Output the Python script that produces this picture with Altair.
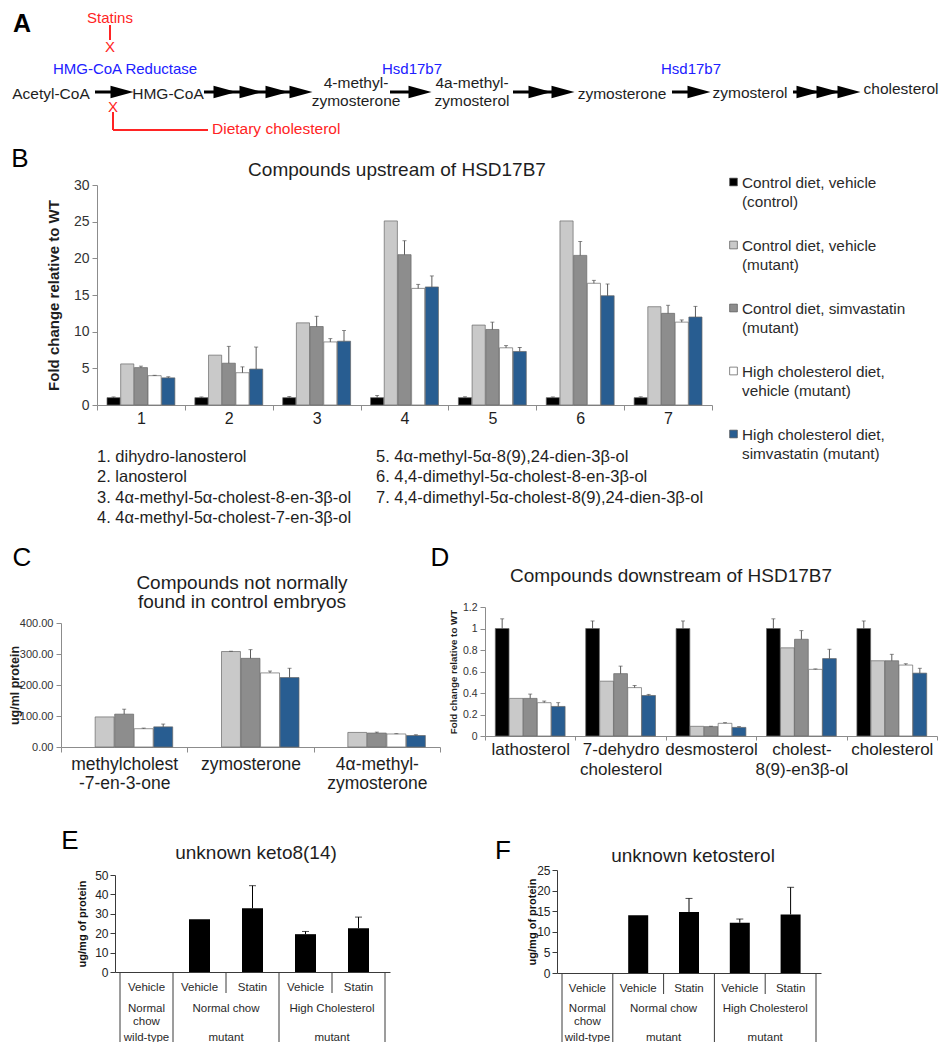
import altair as alt
import pandas as pd

W, H = 931, 1034
M = 8


def px(v):
    return v - M


FONT = "Liberation Sans"
INK = "#1e1e1e"
AXIS_GREY = "#8c8c8c"
RED = "#ff2424"
BLUE = "#2020ff"

# ------------------------------------------------------------------ data
SERIES = [
    "Control diet, vehicle (control)",
    "Control diet, vehicle (mutant)",
    "Control diet, simvastatin (mutant)",
    "High cholesterol diet, vehicle (mutant)",
    "High cholesterol diet, simvastatin (mutant)",
]
LEGEND_LABELS = [
    "Control diet, vehicle\n(control)",
    "Control diet, vehicle\n(mutant)",
    "Control diet, simvastatin\n(mutant)",
    "High cholesterol diet,\nvehicle (mutant)",
    "High cholesterol diet,\nsimvastatin (mutant)",
]
COLORS = ["#000000", "#c9c9c9", "#8d8d8d", "#ffffff", "#285d91"]

# Panel B
B_CATS = ["1", "2", "3", "4", "5", "6", "7"]
B_VALUES = [
    [1.0, 1.0, 1.0, 1.0, 1.0, 1.0, 1.0],
    [5.6, 6.8, 11.2, 25.1, 10.9, 25.1, 13.4],
    [5.1, 5.7, 10.7, 20.5, 10.3, 20.4, 12.5],
    [4.0, 4.4, 8.6, 15.9, 7.8, 16.6, 11.3],
    [3.7, 4.9, 8.7, 16.1, 7.3, 14.9, 12.0],
]
B_ERRORS = [
    [0.1, 0.1, 0.15, 0.3, 0.12, 0.1, 0.12],
    [0, 0, 0, 0, 0, 0, 0],
    [0.2, 2.3, 1.4, 1.9, 1.0, 1.9, 1.1],
    [0.05, 0.8, 0.45, 0.55, 0.3, 0.4, 0.3],
    [0.15, 3.0, 1.45, 1.5, 0.55, 1.6, 1.45],
]
B_COMPOUNDS_LEFT = [
    "1. dihydro-lanosterol",
    "2. lanosterol",
    "3. 4α-methyl-5α-cholest-8-en-3β-ol",
    "4. 4α-methyl-5α-cholest-7-en-3β-ol",
]
B_COMPOUNDS_RIGHT = [
    "5. 4α-methyl-5α-8(9),24-dien-3β-ol",
    "6. 4,4-dimethyl-5α-cholest-8-en-3β-ol",
    "7. 4,4-dimethyl-5α-cholest-8(9),24-dien-3β-ol",
]

# Panel C
C_CATS = ["methylcholest|-7-en-3-one", "zymosterone", "4α-methyl-|zymosterone"]
C_VALUES = [
    [None, None, None],
    [97, 308, 47],
    [106, 286, 45],
    [59, 239, 42],
    [65, 224, 37],
]
C_ERRORS = [
    [0, 0, 0],
    [0, 1, 0],
    [16, 28, 3],
    [2, 6, 1],
    [9, 30, 2.5],
]

# Panel D
D_CATS = ["lathosterol", "7-dehydro|cholesterol", "desmosterol", "cholest-|8(9)-en3β-ol", "cholesterol"]
D_VALUES = [
    [1.0, 1.0, 1.0, 1.0, 1.0],
    [0.35, 0.51, 0.09, 0.82, 0.70],
    [0.35, 0.58, 0.087, 0.90, 0.70],
    [0.31, 0.45, 0.118, 0.62, 0.66],
    [0.275, 0.377, 0.08, 0.72, 0.585],
]
D_ERRORS = [
    [0.09, 0.07, 0.07, 0.09, 0.07],
    [0, 0, 0, 0, 0],
    [0.04, 0.07, 0.004, 0.08, 0.06],
    [0.015, 0.02, 0.006, 0.004, 0.012],
    [0.035, 0.01, 0.007, 0.087, 0.045],
]

# Panels E / F
COND_TREATMENT = ["Vehicle", "Vehicle", "Statin", "Vehicle", "Statin"]
COND_DIET = ["Normal\nchow", "Normal chow", "High Cholesterol"]
COND_GENOTYPE = ["wild-type", "mutant", "mutant"]
GROUP_START = [0, 1, 3]
GROUP_END = [1, 3, 5]
E_VALUES = [0, 27.2, 32.9, 19.5, 22.6]
E_ERRORS = [0, 0, 11.6, 1.4, 5.7]
F_VALUES = [0, 14.0, 14.8, 12.2, 14.2]
F_ERRORS = [0, 0, 3.3, 0.9, 6.6]

# Panel A (pathway diagram) labels
PATH_NODES = ["Acetyl-CoA", "HMG-CoA", "4-methyl-\nzymosterone", "4a-methyl-\nzymosterol",
              "zymosterone", "zymosterol", "cholesterol"]
ENZYMES = ["HMG-CoA Reductase", "Hsd17b7", "Hsd17b7"]
INHIBITORS = ["Statins", "Dietary cholesterol"]

TITLES = ["Compounds upstream of HSD17B7", "Compounds not normally\nfound in control embryos",
          "Compounds downstream of HSD17B7", "unknown keto8(14)", "unknown ketosterol"]
LETTERS = ["A", "B", "C", "D", "E", "F"]

# ------------------------------------------------------------------ layout (reference pixels)
NODE_X = [51, 168, 356, 472, 622, 750, 901]
NODE_Y = [93, 93, 82, 82, 93, 92, 88]
ENZ_X = [125, 412, 691]
SHAFT_X1 = [95, 204, 390, 513, 672, 793]
SHAFT_X2 = [118, 300, 420, 560, 700, 850]
HEAD_X = [122, 225, 251, 277, 301, 420, 540, 563, 699, 808, 828, 849]
ARROW_Y = 92

XREF = alt.Scale(domain=[0, 947], range=[px(0), px(947)], nice=False, zero=False)
YREF = alt.Scale(domain=[0, 1050], range=[px(0), px(1050)], nice=False, zero=False)


def ax(f):
    return alt.X(f"{f}:Q", scale=XREF, axis=None)


def ay(f):
    return alt.Y(f"{f}:Q", scale=YREF, axis=None)


def text_layer(texts, xs, ys, size, color=INK, weight="normal", align="center", line_h=None):
    df = pd.DataFrame({"t": texts, "x": xs, "y": ys})
    kw = dict(font=FONT, fontSize=size, color=color, fontWeight=weight, align=align,
              baseline="alphabetic", lineBreak="\n", dy=round(0.36 * size, 1))
    if line_h:
        kw["lineHeight"] = line_h
    return alt.Chart(df).mark_text(**kw).encode(x=ax("x"), y=ay("y"), text="t:N")


# ---- annotations: diagram + titles + letters + compound list
nodes = text_layer(PATH_NODES, NODE_X, NODE_Y, 15.5, line_h=18)
enz = text_layer(ENZYMES, ENZ_X, [69, 69, 69], 15, color=BLUE)
statins = text_layer([INHIBITORS[0], "X", "X"], [110, 110, 113], [18, 47, 107], 15, color=RED)
dietary = text_layer([INHIBITORS[1]], [212], [128], 15.5, color=RED, align="left")

shafts = alt.Chart(pd.DataFrame({"x1": SHAFT_X1, "x2": SHAFT_X2, "y": [ARROW_Y] * len(SHAFT_X1)})).mark_rule(
    color="black", strokeWidth=3).encode(x=ax("x1"), x2="x2:Q", y=ay("y"))
heads = alt.Chart(pd.DataFrame({"x": HEAD_X, "y": [ARROW_Y] * len(HEAD_X)})).mark_point(
    shape="M-1,-0.55L1,0L-1,0.55Z", size=529, filled=True, color="black", opacity=1, strokeWidth=0
).encode(x=ax("x"), y=ay("y"))
red_lines = alt.Chart(pd.DataFrame({
    "x1": [110, 113, 113], "y1": [25, 112, 130], "x2": [110, 113, 208], "y2": [40, 130, 130]
})).mark_rule(color=RED, strokeWidth=2).encode(x=ax("x1"), y=ay("y1"), x2="x2:Q", y2="y2:Q")

letters_a = text_layer([LETTERS[0]], [22], [23], 25, color="black", weight="bold")
letters = text_layer(LETTERS[1:], [20, 22, 440, 70, 503], [158, 557, 557, 840, 850], 26, color="black")
titles = text_layer(TITLES, [397, 242, 671, 256, 693], [169, 582, 575, 852, 855], 19, line_h=19)
comp_list = text_layer(["\n".join(B_COMPOUNDS_LEFT), "\n".join(B_COMPOUNDS_RIGHT)],
                       [97, 376], [456, 456], 16.5, align="left", line_h=20.4)

annotations = alt.layer(shafts, heads, red_lines, nodes, enz, statins, dietary,
                        letters_a, letters, titles, comp_list)

# ---- grouped bar panels
COLOR = alt.Color("series:N", scale=alt.Scale(domain=SERIES, range=COLORS), legend=None)


def long_table(cats, values, errors):
    rows = []
    for s, vals, errs in zip(SERIES, values, errors):
        for c, v, e in zip(cats, vals, errs):
            if v is None:
                continue
            rows.append({"cat": c, "series": s, "value": v, "err": e})
    return pd.DataFrame(rows)


def grouped_panel(df, cats, x0, x1, ybase, ytop, ymax, yvals, yfmt, ylab_size, ytitle, ytitle_size,
                  ytitle_x, xlab_size, xlab_pad, xtick, line_h, pad_in, pad_out, cap):
    xs = alt.Scale(domain=cats, range=[px(x0), px(x1)], paddingInner=0, paddingOuter=0)
    ys = alt.Scale(domain=[0, ymax], range=[px(ybase), px(ytop)], nice=False, zero=True)
    xax = alt.Axis(orient="bottom", offset=px(ybase) - H, tickBand="extent", tickSize=xtick,
                   labelPadding=xlab_pad, labelFontSize=xlab_size, labelColor=INK, labelAngle=0,
                   labelExpr="split(datum.label, '|')", labelLineHeight=line_h, labelOverlap=False,
                   labelBound=False, title=None, grid=False, domainColor=AXIS_GREY, tickColor=AXIS_GREY)
    yax = alt.Axis(orient="left", offset=-px(x0), values=yvals, format=yfmt, tickSize=5,
                   labelFontSize=ylab_size, labelColor="#333333", labelPadding=3, grid=False,
                   domainColor=AXIS_GREY, tickColor=AXIS_GREY,
                   title=ytitle, titleFontSize=ytitle_size, titleFontWeight="bold", titleColor=INK,
                   titleAngle=270, titleX=ytitle_x - x0, titleY=px((ybase + ytop) / 2),
                   titleAlign="center", titleBaseline="middle")
    X = alt.X("cat:N", sort=cats, scale=xs, axis=xax)
    XO = alt.XOffset("series:N", sort=SERIES,
                     scale=alt.Scale(domain=SERIES, paddingInner=pad_in, paddingOuter=pad_out))
    Y = alt.Y("value:Q", scale=ys, axis=yax)
    base = alt.Chart(df)
    bars = base.mark_bar(stroke="#676767", strokeWidth=0.7).encode(x=X, xOffset=XO, y=Y, color=COLOR)
    eb = base.transform_filter("datum.err > 0").transform_calculate(upper="datum.value + datum.err")
    rules = eb.mark_rule(color="#4a4a4a", strokeWidth=0.9).encode(x=X, xOffset=XO, y=Y, y2="upper:Q")
    caps = eb.mark_tick(orient="horizontal", size=cap, thickness=0.9, color="#4a4a4a").encode(
        x=X, xOffset=XO, y=alt.Y("upper:Q", scale=ys, axis=yax))
    return alt.layer(bars, rules, caps)


panelB = grouped_panel(long_table(B_CATS, B_VALUES, B_ERRORS), B_CATS, 97, 712, 405, 185, 30,
                       [0, 5, 10, 15, 20, 25, 30], "d", 14, "Fold change relative to WT", 15, 53,
                       16, 0, 5, 18, 0.04, 0.73, 4)
panelC = grouped_panel(long_table(C_CATS, C_VALUES, C_ERRORS), C_CATS, 61, 440, 747, 623, 400,
                       [0, 100, 200, 300, 400], ".2f", 11, "ug/ml protein", 12.5, 14,
                       17.5, 3.5, 5, 19, 0.03, 0.75, 4)
panelD = grouped_panel(long_table(D_CATS, D_VALUES, D_ERRORS), D_CATS, 485, 937, 736, 607, 1.2,
                       [0, 0.2, 0.4, 0.6, 0.8, 1.0, 1.2], "~g", 10.5, "Fold change relative to WT", 9.8,
                       453, 17, 1, 4, 20, 0.02, 0.735, 4)

# ---- legend of B
dfL = pd.DataFrame({"series": SERIES, "label": LEGEND_LABELS})
LY = alt.Y("series:N", sort=SERIES,
           scale=alt.Scale(type="point", domain=SERIES, range=[px(182), px(434)], padding=0), axis=None)
leg_sq = alt.Chart(dfL).mark_square(size=60, stroke="#555555", strokeWidth=0.7, opacity=1).encode(
    x=alt.value(px(733.5)), y=LY, color=COLOR)
leg_tx = alt.Chart(dfL).mark_text(align="left", baseline="alphabetic", lineBreak="\n", fontSize=15.3,
                                  lineHeight=19, dy=5.5, font=FONT, color="#2a2a2a").encode(
    x=alt.value(px(742)), y=LY, text="label:N")
legendB = alt.layer(leg_sq, leg_tx)


# ---- E / F panels with a condition table under the axis
def cond_panel(values, errors, x0, x1, ybase, ytop, ymax, yvals, ytitle_x, bar_w, rows_y):
    df = pd.DataFrame({"slot": list(range(5)), "value": values, "err": errors,
                       "t": COND_TREATMENT})
    xs = alt.Scale(domain=[0, 5], range=[px(x0), px(x1)], nice=False, zero=False)
    ys = alt.Scale(domain=[0, ymax], range=[px(ybase), px(ytop)], nice=False, zero=True)
    xax = alt.Axis(orient="bottom", offset=px(ybase) - H, ticks=False, labels=False, title=None,
                   grid=False, domainColor="#3a3a3a")
    yax = alt.Axis(orient="left", offset=-px(x0), values=yvals, tickSize=5, labelFontSize=12,
                   labelColor="#222222", labelPadding=2, domainColor="#3a3a3a", tickColor="#3a3a3a",
                   grid=False, title="ug/mg of protein", titleFontSize=11, titleFontWeight="bold",
                   titleColor="#111111", titleAngle=270, titleX=ytitle_x - x0,
                   titleY=px((ybase + ytop) / 2), titleAlign="center", titleBaseline="middle")
    X = alt.X("xc:Q", scale=xs, axis=xax)
    Y = alt.Y("value:Q", scale=ys, axis=yax)
    base = alt.Chart(df).transform_calculate(xc="datum.slot + 0.5")
    bars = base.transform_filter("datum.value > 0").mark_bar(width=bar_w, color="black").encode(x=X, y=Y)
    eb = base.transform_filter("datum.err > 0").transform_calculate(upper="datum.value + datum.err")
    rules = eb.mark_rule(color="black", strokeWidth=1).encode(x=X, y=Y, y2="upper:Q")
    caps = eb.mark_tick(orient="horizontal", size=7, thickness=1, color="black").encode(
        x=X, y=alt.Y("upper:Q", scale=ys, axis=yax))

    tkw = dict(font=FONT, fontSize=11.5, color="#2a2a2a", align="center", baseline="alphabetic",
               lineBreak="\n", lineHeight=12.5)
    r1 = base.mark_text(**tkw).encode(x=X, y=alt.value(px(rows_y[0]) + 4.1), text="t:N")
    grp = pd.DataFrame({"diet": COND_DIET, "geno": COND_GENOTYPE, "s": GROUP_START, "e": GROUP_END})
    gbase = alt.Chart(grp).transform_calculate(xc="(datum.s + datum.e) / 2")
    r2 = gbase.mark_text(**tkw).encode(x=X, y=alt.value(px(rows_y[1]) + 4.1), text="diet:N")
    r3 = gbase.mark_text(**tkw).encode(x=X, y=alt.value(px(rows_y[2]) + 4.1), text="geno:N")
    full = alt.Chart(pd.DataFrame({"xc": [0, 1, 3, 5]})).mark_rule(color="#3a3a3a", strokeWidth=1).encode(
        x=X, y=alt.value(px(ybase)), y2=alt.value(H))
    part = alt.Chart(pd.DataFrame({"xc": [2, 4]})).mark_rule(color="#3a3a3a", strokeWidth=1).encode(
        x=X, y=alt.value(px(ybase)), y2=alt.value(px(ybase + 21)))
    return alt.layer(bars, rules, caps, full, part, r1, r2, r3)


panelE = cond_panel(E_VALUES, E_ERRORS, 115, 390, 972, 875, 50, [0, 10, 20, 30, 40, 50], 82, 21,
                    [987, 1008, 1037])
panelF = cond_panel(F_VALUES, F_ERRORS, 557, 821, 973, 870, 25, [0, 5, 10, 15, 20, 25], 532, 20,
                    [988, 1008, 1037])

chart = (
    alt.layer(annotations, panelB, legendB, panelC, panelD, panelE, panelF)
    .resolve_scale(x="independent", y="independent", xOffset="independent")
    .resolve_axis(x="independent", y="independent")
    .properties(width=W, height=H, padding=0, autosize=alt.AutoSizeParams(type="none"))
    .configure_view(strokeWidth=0)
    .configure_axis(labelFont=FONT, titleFont=FONT)
)

chart.save("out.html", embed_options={"renderer": "svg", "actions": False})
